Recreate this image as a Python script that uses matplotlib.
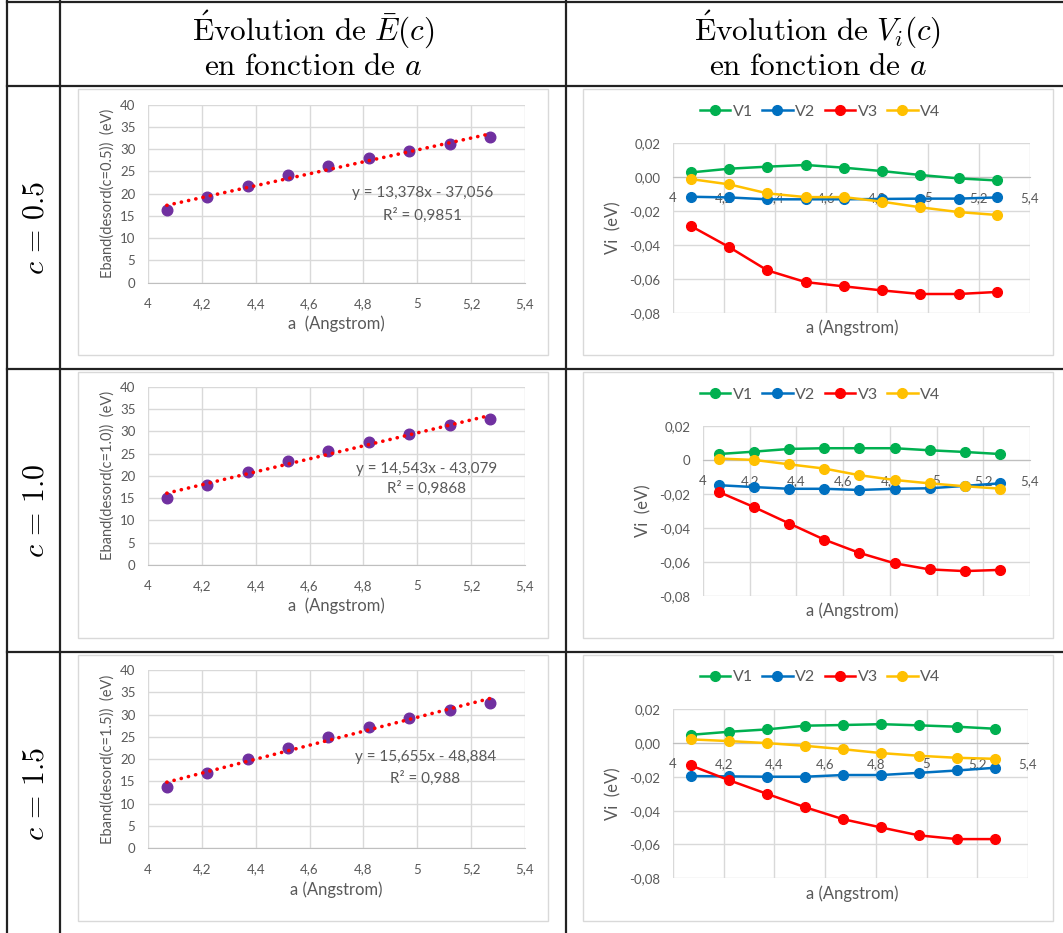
import matplotlib.pyplot as plt
from matplotlib.patches import Rectangle

plt.rcParams['mathtext.fontset'] = 'cm'
plt.rcParams['font.family'] = ['Lato', 'DejaVu Sans']

W, H = 1063, 933
GRAY = "#595959"
GRID = "#d9d9d9"

# data
a = [4.07, 4.22, 4.37, 4.52, 4.67, 4.82, 4.97, 5.12, 5.27]
c_values = ["0.5", "1.0", "1.5"]

eband = [
    [16.3, 19.2, 21.7, 24.2, 26.2, 28.1, 29.7, 31.2, 32.7],
    [15.1, 17.9, 20.9, 23.4, 25.6, 27.7, 29.5, 31.3, 32.7],
    [13.8, 17.0, 20.0, 22.6, 25.0, 27.3, 29.2, 31.0, 32.7],
]
slopes = [13.378, 14.543, 15.655]
intercepts = [-37.056, -43.079, -48.884]
eq_texts = ["y = 13,378x - 37,056", "y = 14,543x - 43,079", "y = 15,655x - 48,884"]
r2_texts = ["R² = 0,9851", "R² = 0,9868", "R² = 0,988"]

v1 = [
    [0.0025, 0.0047, 0.0059, 0.0069, 0.0053, 0.0033, 0.0010, -0.0010, -0.0022],
    [0.0035, 0.0049, 0.0065, 0.0069, 0.0069, 0.0069, 0.0057, 0.0047, 0.0035],
    [0.0049, 0.0067, 0.0081, 0.0103, 0.0107, 0.0112, 0.0105, 0.0097, 0.0085],
]
v2 = [
    [-0.0118, -0.0122, -0.0133, -0.0133, -0.0133, -0.0131, -0.0129, -0.0129, -0.0122],
    [-0.0149, -0.0160, -0.0170, -0.0170, -0.0177, -0.0170, -0.0167, -0.0153, -0.0138],
    [-0.0195, -0.0197, -0.0199, -0.0199, -0.0189, -0.0189, -0.0176, -0.0162, -0.0146],
]
v3 = [
    [-0.0290, -0.0414, -0.0551, -0.0620, -0.0645, -0.0669, -0.0690, -0.0690, -0.0678],
    [-0.0190, -0.0279, -0.0375, -0.0470, -0.0548, -0.0609, -0.0645, -0.0655, -0.0648],
    [-0.0132, -0.0219, -0.0300, -0.0379, -0.0450, -0.0499, -0.0546, -0.0568, -0.0568],
]
v4 = [
    [-0.0014, -0.0045, -0.0098, -0.0120, -0.0120, -0.0147, -0.0180, -0.0208, -0.0225],
    [0.0008, 0.0000, -0.0026, -0.0051, -0.0090, -0.0118, -0.0138, -0.0155, -0.0169],
    [0.0022, 0.0012, 0.0000, -0.0016, -0.0036, -0.0059, -0.0075, -0.0087, -0.0093],
]
v_names = ["V1", "V2", "V3", "V4"]
v_colors = ["#00B050", "#0070C0", "#FF0000", "#FFC000"]

x_ticks = [4, 4.2, 4.4, 4.6, 4.8, 5, 5.2, 5.4]
x_ticklabels = ["4", "4,2", "4,4", "4,6", "4,8", "5", "5,2", "5,4"]
e_ticks = [0, 5, 10, 15, 20, 25, 30, 35, 40]
vi_ticks = [0.02, 0, -0.02, -0.04, -0.06, -0.08]
vi_ticklabels = [
    ["0,02", "0,00", "-0,02", "-0,04", "-0,06", "-0,08"],
    ["0,02", "0", "-0,02", "-0,04", "-0,06", "-0,08"],
    ["0,02", "0,00", "-0,02", "-0,04", "-0,06", "-0,08"],
]
e_xlabels = ["a  (Angstrom)", "a  (Angstrom)", "a (Angstrom)"]


def px_axes(fig, x0, y0, x1, y1):
    return fig.add_axes([x0 / W, 1 - y1 / H, (x1 - x0) / W, (y1 - y0) / H])


fig = plt.figure(figsize=(W / 100, H / 100), dpi=100)

# table frame + chart boxes on a full-figure overlay
bg = fig.add_axes([0, 0, 1, 1], zorder=0)
bg.set_xlim(0, W)
bg.set_ylim(H, 0)
bg.axis("off")
for x in [7, 60, 566]:
    bg.plot([x, x], [1, H], color="#222222", lw=1.6)
for y in [1.5, 86, 369, 652]:
    bg.plot([7, W], [y, y], color="#222222", lw=1.6)

row_tops = [89, 372, 655]
for r, top in enumerate(row_tops):
    bg.add_patch(Rectangle((78, top), 470, 266, fc="white", ec="#d9d9d9", lw=1))
    bg.add_patch(Rectangle((583, top), 470, 266, fc="white", ec="#d9d9d9", lw=1))
    yc = (86 + 283 * r + 369 + 283 * r) / 2
    bg.text(34, yc, rf"$c\,=\,{c_values[r]}$", rotation=90, ha="center",
            va="center", fontsize=21.5)

bg.text(313, 30, r"$\mathrm{\acute{E}volution\ de}\ \bar{E}(c)$", ha="center",
        va="center", fontsize=22.5)
bg.text(313, 66, r"$\mathrm{en\ fonction\ de}\ a$", ha="center", va="center",
        fontsize=22.5)
bg.text(818, 30, r"$\mathrm{\acute{E}volution\ de}\ V_i(c)$", ha="center",
        va="center", fontsize=22.5)
bg.text(818, 66, r"$\mathrm{en\ fonction\ de}\ a$", ha="center", va="center",
        fontsize=22.5)

# plot-area boxes in pixels, per row
left_boxes = [(148, 104.7, 525, 282.7), (148, 386.7, 525, 565), (148, 670, 525, 848.3)]
right_boxes = [(673, 142.7, 1030, 312.7), (703, 426, 1030, 595.7), (673, 709.3, 1028, 878.3)]
eq_pos = [(5.02, 20.2, 15.2), (5.036, 21.5, 17.3), (5.03, 20.5, 15.8)]
legend_y = [112, 395, 677]

for r in range(3):
    # left: Eband vs a with linear trend
    ax = px_axes(fig, *left_boxes[r])
    ax.set_zorder(2)
    ax.scatter(a, eband[r], s=58, color="#7030A0", zorder=3)
    fit_x = [a[0], a[-1]]
    fit_y = [slopes[r] * x + intercepts[r] for x in fit_x]
    ax.plot(fit_x, fit_y, color="#FF0000", lw=2.6, linestyle=(0, (0.05, 2.0)),
            dash_capstyle="round", zorder=4)
    ax.set_xlim(4, 5.4)
    ax.set_ylim(0, 40)
    ax.set_xticks(x_ticks, x_ticklabels)
    ax.set_yticks(e_ticks)
    ax.grid(color=GRID, lw=1)
    ax.set_axisbelow(True)
    for s in ax.spines.values():
        s.set_visible(False)
    ax.spines["bottom"].set_visible(True)
    ax.spines["bottom"].set_color("#bfbfbf")
    ax.tick_params(length=0, labelsize=9.5, labelcolor=GRAY, pad=9)
    ax.tick_params(axis="x", pad=11)
    ex, ey1, ey2 = eq_pos[r]
    ax.text(ex, ey1, eq_texts[r], ha="center", va="center", fontsize=11, color=GRAY)
    ax.text(ex, ey2, r2_texts[r], ha="center", va="center", fontsize=11, color=GRAY)
    ax.set_xlabel(e_xlabels[r], fontsize=12, color=GRAY, labelpad=4)
    ax.set_ylabel(f"Eband(desord(c={c_values[r]}))  (eV)", fontsize=10.5,
                  color=GRAY, labelpad=4)

    # right: Vi vs a
    ax = px_axes(fig, *right_boxes[r])
    ax.set_zorder(2)
    for series, name, col in zip([v1[r], v2[r], v3[r], v4[r]], v_names, v_colors):
        ax.plot(a, series, color=col, lw=1.8, marker="o", ms=7, label=name, zorder=3)
    ax.set_xlim(4, 5.4)
    ax.set_ylim(-0.08, 0.02)
    ax.set_xticks(x_ticks, x_ticklabels)
    ax.set_yticks(vi_ticks, vi_ticklabels[r])
    ax.grid(color=GRID, lw=1)
    ax.set_axisbelow(True)
    for s in ax.spines.values():
        s.set_visible(False)
    ax.spines["bottom"].set_visible(True)
    ax.spines["bottom"].set_position(("data", 0))
    ax.spines["bottom"].set_color("#bfbfbf")
    ax.tick_params(length=0, labelsize=9.5, labelcolor=GRAY, pad=9)
    ax.tick_params(axis="x", pad=11)
    ax.set_ylabel("Vi  (eV)", fontsize=12, color=GRAY, labelpad=6)
    ax.text(852 / W, 1 - (right_boxes[r][3] + 15) / H, "a (Angstrom)",
            transform=fig.transFigure, ha="center", va="center", fontsize=12,
            color=GRAY)
    ax.legend(loc="center", bbox_to_anchor=(820 / W, 1 - legend_y[r] / H),
              bbox_transform=fig.transFigure, ncol=4, frameon=False,
              fontsize=11.5, handlelength=1.9, handletextpad=0.15,
              columnspacing=0.6, labelcolor=GRAY)

fig.savefig("out.png", dpi=100)
